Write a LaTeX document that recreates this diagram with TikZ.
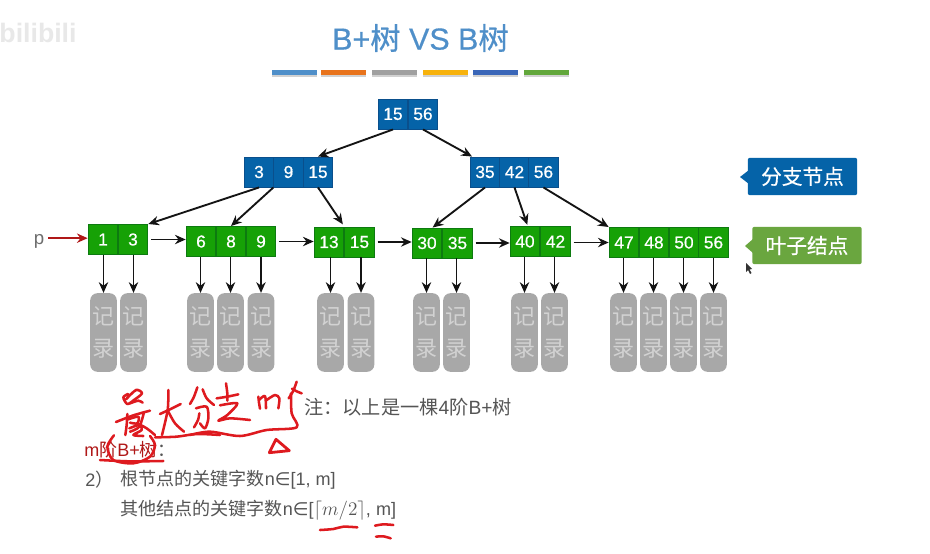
\documentclass[tikz,border=0pt]{standalone}
\usepackage{fontspec}
\setmainfont{Liberation Sans}
\newfontfamily\cjkf{Noto Sans CJK SC}
\newfontfamily\medl[FakeBold=0.5]{Liberation Sans}
\newfontfamily\medc[FakeBold=0.5]{Noto Sans CJK SC}
\newfontfamily\symf{DejaVu Sans}
\newcommand{\zh}[1]{{\cjkf #1}}
\usetikzlibrary{arrows.meta}
\definecolor{blueN}{HTML}{0563A8}
\definecolor{blueB}{HTML}{0A4F8C}
\definecolor{greenN}{HTML}{16A106}
\definecolor{greenB}{HTML}{0D7A10}
\definecolor{recF}{HTML}{A8A8A8}
\definecolor{recT}{HTML}{D2D2D2}
\definecolor{titleC}{HTML}{4F8FC9}
\definecolor{txt}{HTML}{555555}
\definecolor{ink}{HTML}{DE1A1F}
\definecolor{gg}{HTML}{6AA63F}
\definecolor{pred}{HTML}{B01818}
\tikzset{
  cellb/.style={draw=blueB,fill=blueN,text=white,line width=.7pt,inner sep=0pt,minimum height=22.5pt,minimum width=22pt,font=\medl\fontsize{13}{15}\selectfont},
  cellg/.style={draw=greenB,fill=greenN,text=white,line width=.7pt,inner sep=0pt,minimum height=22.5pt,minimum width=22.3pt,font=\medl\fontsize{13}{15}\selectfont},
  rec/.style={fill=recF,text=recT,rounded corners=5.5pt,inner sep=0pt,minimum width=20pt,minimum height=59pt,align=center,font=\cjkf\fontsize{16.5}{24}\selectfont},
  link/.style={-{Stealth[length=8pt,width=7pt]},line width=1.4pt,black!92},
  badge/.style={text=white,rounded corners=1.5pt,inner sep=0pt,minimum width=82pt,minimum height=28pt,font=\medc\fontsize{15.5}{18}\selectfont},
  bar/.style={line width=4pt},
  hand/.style={draw=ink,line width=1.9pt,line cap=round,line join=round},
  body/.style={anchor=west,text=txt,inner sep=0pt,font=\fontsize{13.55}{16}\selectfont},
}
\begin{document}
\begin{tikzpicture}[x=.75pt,y=-.75pt]
\useasboundingbox (0,0) rectangle (930,553);
\fill[white] (0,0) rectangle (930,553);
% watermark
\node[text=black!9,inner sep=0pt,font=\bfseries\fontsize{20}{20}\selectfont] (wm) at (38,33) {bilibili};
% title
\node[text=titleC,inner sep=0pt,font=\medl\fontsize{22.8}{26}\selectfont] (title) at (420.5,38) {B+{\medc 树} VS B{\medc 树}};
% colour bars
\foreach \a/\b/\c in {272/317/4F8FC9,321/366/E8731C,372/417/A0A0A0,423/468/F7B20C,473/518/3A66B8,524/569/62A73B}{
  \definecolor{bc}{HTML}{\c}
  \draw[bar,black!18] (\a,74) -- (\b,74);
  \draw[bar,bc] (\a,72.5) -- (\b,72.5);
}
% root
\node[cellb] (r1) at (393,114) {15};
\node[cellb] (r2) at (423,114) {56};
% branch
\node[cellb] (a1) at (259,172) {3};
\node[cellb] (a2) at (288.5,172) {9};
\node[cellb] (a3) at (318,172) {15};
\node[cellb] (b1) at (485,172) {35};
\node[cellb] (b2) at (514.5,172) {42};
\node[cellb] (b3) at (543.5,172) {56};
% leaves
\node[cellg] (l1) at (103,239.5) {1};
\node[cellg] (l2) at (133,239.5) {3};
\node[cellg] (l3) at (201,241.5) {6};
\node[cellg] (l4) at (231,241.5) {8};
\node[cellg] (l5) at (261,241.5) {9};
\node[cellg] (l6) at (329,242) {13};
\node[cellg] (l7) at (359.5,242) {15};
\node[cellg] (l8) at (427,243) {30};
\node[cellg] (l9) at (457.5,243) {35};
\node[cellg] (l10) at (525,241.5) {40};
\node[cellg] (l11) at (555.5,241.5) {42};
\node[cellg] (l12) at (624,242.5) {47};
\node[cellg] (l13) at (654,242.5) {48};
\node[cellg] (l14) at (684,242.5) {50};
\node[cellg] (l15) at (713.5,242.5) {56};
% records
\foreach \i/\x in {1/103.5,2/133.5,3/200.5,4/230.5,5/261,6/330.5,7/361,8/426.5,9/456.5,10/524.5,11/554.5,12/623.5,13/653.5,14/683.5,15/713.5}{
  \node[rec] (k\i) at (\x,332.5) {记\\录};
  \draw[link] (l\i.south -| k\i.north) -- (k\i.north);
}
% tree links
\draw[link] (r1.south) -- (a3.north);
\draw[link] (r2.south) -- (b1.130);
\draw[link] (a1.south) -- (l2.north east);
\draw[link] (a2.south west) -- (l4.north);
\draw[link,shorten >=2pt] (a3.south) -- (l6.north east);
\draw[link] (b1.south) -- (l8.70);
\draw[link,shorten >=1pt] (b2.south) -- (l10.80);
\draw[link] (b3.south) -- (l12.north west);
% leaf chain
\draw[link,shorten <=2pt] (l2.east) -- (l2.east -| l3.west);
\draw[link,shorten <=2pt] (l5.east) -- (l5.east -| l6.west);
\draw[link,shorten <=2pt] (l7.east) -- (l7.east -| l8.west);
\draw[link,shorten <=2pt] (l9.east) -- (l9.east -| l10.west);
\draw[link,shorten <=2pt] (l11.east |- l12.west) -- (l12.west);
% p
\node[text=txt!85,inner sep=0pt,font=\fontsize{14}{15}\selectfont] (p) at (39,241) {p};
\draw[link,draw=pred,fill=pred] (p.east |- l1.west) ++(3pt,1pt) coordinate (ps) (ps) -- (ps -| l1.west);
% badges
\node[badge,fill=blueN] (bb) at (802.5,176.5) {分支节点};
\fill[blueN] (749,170) -- (740,177) -- (749,184) -- cycle;
\node[badge,fill=gg] (gb) at (807,245.5) {叶子结点};
\fill[gg] (753,239) -- (745,246) -- (753,253) -- cycle;
% cursor
\fill[black!80] (746,263) -- (746,272) -- (748,270) -- (750,274) -- (751.5,273) -- (749.5,269.5) -- (752,269) -- cycle;
% text
\node[body,font=\fontsize{14.4}{16}\selectfont] (note) at (304,407) {\zh{注：以上是一棵}4\zh{阶}B+\zh{树}};
\node[body,font=\fontsize{13.5}{16}\selectfont] (mh) at (84,450) {\textcolor{pred}{m\zh{阶}B+\zh{树}}\zh{：}};
\node[body] (n2) at (85,480) {2\zh{）}};
\node[body] (l1t) at (120,480) {\zh{根节点的关键字数}n{\symf∈}[1, m]};
\node[body] (l2t) at (120,510) {\zh{其他结点的关键字数}n{\symf∈}[$\lceil m/2\rceil$, m]};
% handwriting, left part
\begin{scope}[shift={(100,380)}]
\begin{scope}[x=.25pt,y=-.25pt]
\draw[hand] plot[smooth] coordinates {(78,58) (108,30) (126,40) (102,60) (82,72) (70,52) (84,42)};
\draw[hand] plot[smooth] coordinates {(90,70) (115,62) (128,68)};
\draw[hand] plot[smooth] coordinates {(48,126) (100,106) (150,92)};
\draw[hand] plot[smooth] coordinates {(82,102) (80,135) (76,165)};
\draw[hand] plot[smooth] coordinates {(84,118) (115,110) (112,130) (90,128)};
\draw[hand] plot[smooth] coordinates {(88,145) (118,135) (125,150) (100,165) (130,168)};
\draw[hand] plot[smooth] coordinates {(132,96) (118,140) (90,155)};
\draw[hand] plot[smooth] coordinates {(112,130) (140,145) (165,165)};
\draw[hand] plot[smooth] coordinates {(42,166) (22,200) (40,240) (100,250) (150,230) (165,195) (150,168)};
\draw[hand] plot[smooth] coordinates {(0,240) (90,244) (190,243)};
\draw[hand] plot[smooth] coordinates {(180,102) (210,88) (242,72)};
\draw[hand] plot[smooth] coordinates {(205,30) (203,90) (186,165)};
\draw[hand] plot[smooth] coordinates {(205,95) (225,130) (252,155)};
\draw[hand] plot[smooth] coordinates {(165,172) (230,170) (290,162) (360,165)};
\end{scope}
\end{scope}
% handwriting, right part
\begin{scope}[shift={(190,380)}]
\begin{scope}[x=.25pt,y=-.25pt]
\draw[hand] plot[smooth] coordinates {(22,22) (12,50) (0,72)};
\draw[hand] plot[smooth] coordinates {(38,28) (50,55) (72,75)};
\draw[hand] plot[smooth] coordinates {(18,85) (50,80) (55,115) (45,145) (30,130)};
\draw[hand] plot[smooth] coordinates {(28,100) (24,120) (12,142)};
\draw[hand] plot[smooth] coordinates {(80,55) (112,50) (145,43)};
\draw[hand] plot[smooth] coordinates {(108,10) (112,40) (112,62)};
\draw[hand] plot[smooth] coordinates {(90,76) (142,70) (112,105) (85,122) (120,115) (180,120)};
\draw[hand] plot[smooth] coordinates {(205,50) (207,68) (210,86)};
\draw[hand] plot[smooth] coordinates {(207,60) (225,48) (228,85)};
\draw[hand] plot[smooth] coordinates {(230,60) (255,45) (268,55) (265,85)};
\draw[hand] plot[smooth] coordinates {(296,55) (310,32) (320,5)};
\draw[hand] plot[smooth] coordinates {(306,26) (320,34) (335,40)};
\draw[hand] plot[smooth] coordinates {(303,40) (305,100) (320,142) (230,150) (150,168) (60,155) (0,165)};
\draw[hand,line width=2.1pt] (258,178) -- (238,218) -- (298,212) -- cycle;
\end{scope}
\end{scope}
% handwriting, under the formula
\begin{scope}[shift={(60,375)}]
\begin{scope}[x=.25pt,y=-.25pt]
\draw[hand] plot[smooth] coordinates {(780,465) (820,462) (850,455) (892,457)};
\draw[hand] plot[smooth] coordinates {(945,452) (970,448) (1000,450)};
\draw[hand] plot[smooth] coordinates {(948,485) (970,484) (992,490)};
\end{scope}
\end{scope}
\end{tikzpicture}
\end{document}
